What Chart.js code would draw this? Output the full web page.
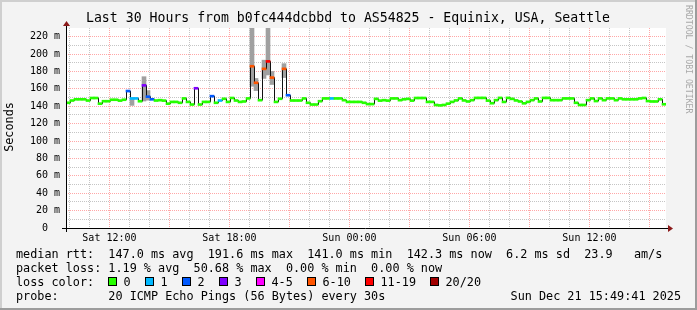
<!DOCTYPE html>
<html><head><meta charset="utf-8">
<script src="https://cdn.jsdelivr.net/npm/chart.js@4/dist/chart.umd.min.js"></script>
<style>html,body{margin:0;padding:0;background:#f3f3f3;overflow:hidden}canvas{display:block}</style>
</head><body>
<canvas id="c" width="697" height="310"></canvas>
<script>
// ---------- data ----------
const titleText = 'Last 30 Hours from b0fc444dcbbd to AS54825 - Equinix, USA, Seattle';
const startHour = 9.828;   // Sat 09:49:41, hours since Sat 00:00
const spanHours = 30;
const stepHours = 0.2;     // one consolidated sample every 12 minutes

// median round-trip time per sample, ms
const medianRtt = [
  144, 146.6, 148, 148, 148, 146.6, 149.5, 149.5, 143, 145.8,
  145.8, 147.5, 147.5, 146.5, 147.5, 157.5, 149, 149, 145.8, 164,
  151, 148, 146.6, 147, 146.5, 143, 145, 145, 144, 149,
  145, 142, 160.7, 142, 145, 145, 151.6, 144, 146.6, 148.6,
  145, 149.5, 146.6, 145, 145.5, 149, 186, 167, 147, 183,
  191.6, 173, 145, 148.6, 183, 152.7, 146.6, 146.6, 146.6, 149,
  144, 142, 142, 145.8, 149, 149, 149, 149, 149, 147,
  145, 145, 145, 145, 144, 142.5, 142.5, 148.5, 146.5, 147,
  146.5, 149, 149, 147, 148, 148.5, 146.5, 149.5, 149.5, 149.5,
  145, 145, 141.5, 141, 141.5, 143, 145, 146.7, 149, 146.7,
  145.5, 147, 149.6, 149.6, 149.6, 146.5, 143.5, 147, 149.6, 145,
  149.6, 148.5, 146.7, 145.5, 143.4, 145, 147, 149, 145.5, 149.6,
  149.6, 147, 147, 147, 149, 149, 149, 144, 141.5, 141.5,
  147, 149, 146, 149, 147, 149, 149, 147, 149, 148,
  148, 148, 148, 149, 149.5, 146, 145.5, 145.5, 148, 142.3
];
// lost pings (of 20) per sample
const lossCount = [
  0,0,0,0,0,0,0,0,0,0,
  0,0,0,0,0,2,1,1,0,3,
  2,2,0,0,0,0,0,0,0,0,
  0,0,3,0,0,0,2,0,1,0,
  0,0,0,0,0,0,8,7,0,8,
  11,7,0,0,8,2,0,0,0,0,
  0,0,0,0,0,0,1,0,0,0,
  0,0,0,0,0,0,0,0,0,0,
  0,0,0,0,0,0,0,0,0,0,
  0,0,0,0,0,0,0,0,0,0,
  0,0,0,0,0,0,0,0,0,0,
  0,0,0,0,0,0,0,0,0,0,
  0,0,0,0,0,0,0,0,0,0,
  0,0,0,0,0,0,0,0,0,0,
  0,0,0,0,0,0,0,0,0,0
];
// visible "smoke" (spread of individual pings) at sample indexes
const smokeAt   = [16, 19, 20, 46, 47, 49, 50, 51, 54];
const smokeLow  = [141, 146, 147, 163, 158, 172, 176, 165, 173];
const smokeHigh = [149, 174, 158, 235, 172, 193, 235, 180, 189];

const xTickHours  = [12, 18, 24, 30, 36];
const xTickLabels = ['Sat 12:00', 'Sat 18:00', 'Sun 00:00', 'Sun 06:00', 'Sun 12:00'];
const yMin = 0, yMax = 230, yStep = 10;

const lossLabels = ['0', '1', '2', '3', '4-5', '6-10', '11-19', '20/20'];
const lossUpper  = [0, 1, 2, 3, 5, 10, 19, 20];
const lossColors = ['#26ff00', '#00b8ff', '#0059ff', '#7e00ff', '#ff00ff', '#ff5500', '#ff0000', '#a10000'];

const rttLine   = 'median rtt:  147.0 ms avg  191.6 ms max  141.0 ms min  142.3 ms now  6.2 ms sd  23.9   am/s';
const lossLine  = 'packet loss: 1.19 % avg  50.68 % max  0.00 % min  0.00 % now';
const probeLine = 'probe:       20 ICMP Echo Pings (56 Bytes) every 30s';
const stampText = 'Sun Dec 21 15:49:41 2025';

// ---------- helpers ----------
const times = medianRtt.map((_, i) => startHour + (i + 0.5) * stepHours);
function lossColor(n) {
  for (let i = 0; i < lossUpper.length; i++) if (n <= lossUpper[i]) return lossColors[i];
  return lossColors[lossColors.length - 1];
}
const hourTicks = [];
for (let h = Math.ceil(startHour); h <= startHour + spanHours; h++) hourTicks.push(h);
const yTicks = [];
for (let v = yMin; v <= yMax; v += yStep) yTicks.push(v);

const MONO = '"DejaVu Sans Mono", monospace';
const bandHalf = 1.15;
const majorGrid = 'rgba(255,60,60,0.45)';
const minorGrid = 'rgba(140,140,140,0.5)';

const decor = {
  id: 'decor',
  beforeDraw(chart) {
    const c = chart.ctx, a = chart.chartArea;
    c.save();
    c.fillStyle = '#f3f3f3'; c.fillRect(0, 0, 697, 310);
    c.fillStyle = '#ffffff'; c.fillRect(a.left, a.top, a.right - a.left, a.bottom - a.top);
    c.restore();
  },
  // draw the thin median line crisp on the pixel grid
  beforeDatasetDraw(chart, args) {
    if (args.meta.type === 'line') { chart.ctx.save(); chart.ctx.translate(0.5, 0); }
  },
  afterDatasetDraw(chart, args) {
    if (args.meta.type === 'line') chart.ctx.restore();
  },
  afterDraw(chart) {
    const c = chart.ctx, a = chart.chartArea;
    c.save();
    // frame
    c.fillStyle = '#cfcfcf'; c.fillRect(0, 0, 697, 2); c.fillRect(0, 0, 2, 310);
    c.fillStyle = '#9c9c9c'; c.fillRect(0, 308, 697, 2); c.fillRect(695, 0, 2, 310);
    // axes
    c.strokeStyle = '#000'; c.lineWidth = 1;
    c.beginPath();
    c.moveTo(a.left - 4, a.bottom + 0.5); c.lineTo(a.right + 3, a.bottom + 0.5);
    c.moveTo(a.left + 0.5, a.bottom + 4); c.lineTo(a.left + 0.5, a.top - 2);
    c.stroke();
    c.fillStyle = '#8b1a1a';
    c.beginPath();
    c.moveTo(a.right + 2, a.bottom - 3); c.lineTo(a.right + 7, a.bottom + 0.5); c.lineTo(a.right + 2, a.bottom + 4); c.closePath(); c.fill();
    c.beginPath();
    c.moveTo(a.left - 3, a.top - 2); c.lineTo(a.left + 0.5, a.top - 7); c.lineTo(a.left + 4, a.top - 2); c.closePath(); c.fill();
    // title
    c.fillStyle = '#000';
    c.font = '13.2px ' + MONO;
    c.textAlign = 'center'; c.textBaseline = 'middle';
    c.fillText(titleText, 348, 19);
    // y title
    c.font = '11.8px ' + MONO;
    c.save(); c.translate(10, 127); c.rotate(-Math.PI / 2);
    c.fillText('Seconds', 0, 0); c.restore();
    // side watermark
    c.save(); c.translate(688, 5); c.rotate(Math.PI / 2);
    c.font = '8.2px ' + MONO; c.fillStyle = '#a8a8a8'; c.textAlign = 'left';
    c.fillText('RRDTOOL / TOBI OETIKER', 0, 0); c.restore();
    // legend
    c.textAlign = 'left'; c.fillStyle = '#000'; c.font = '11.8px ' + MONO;
    c.fillText(rttLine, 16, 254.5);
    c.fillText(lossLine, 16, 268.5);
    c.fillText('loss color:', 16, 282.5);
    const boxX = [108.5, 145.5, 182.5, 219.5, 256.5, 307.5, 365.5, 430.5];
    lossLabels.forEach((t, i) => {
      c.fillStyle = lossColors[i]; c.fillRect(boxX[i], 277.5, 8, 8);
      c.strokeStyle = '#000'; c.strokeRect(boxX[i], 277.5, 8, 8);
      c.fillStyle = '#000'; c.fillText(t, boxX[i] + 15, 282.5);
    });
    c.fillText(probeLine, 16, 296.5);
    c.textAlign = 'right';
    c.fillText(stampText, 681, 296.5);
    c.restore();
  }
};

new Chart(document.getElementById('c').getContext('2d'), {
  type: 'bar',
  data: {
    datasets: [
      {
        type: 'bar', label: 'smoke',
        data: smokeAt.map((k, j) => ({ x: times[k], y: [smokeLow[j], smokeHigh[j]] })),
        backgroundColor: '#a0a0a0', borderWidth: 0, grouped: false,
        barPercentage: 1, categoryPercentage: 1, order: 3, clip: 0
      },
      {
        type: 'line', label: 'median',
        data: medianRtt.map((v, i) => ({ x: times[i], y: v })),
        stepped: 'middle', borderColor: '#111111', borderWidth: 1,
        pointRadius: 0, fill: false, order: 2, clip: 0
      },
      {
        type: 'bar', label: 'loss',
        data: medianRtt.map((v, i) => ({ x: times[i], y: [v - bandHalf, v + bandHalf] })),
        backgroundColor: lossCount.map(lossColor), borderWidth: 0, grouped: false,
        barPercentage: 1, categoryPercentage: 1, order: 1, clip: 0
      }
    ]
  },
  options: {
    responsive: false, animation: false, devicePixelRatio: 1, events: [],
    layout: { padding: { left: 0, right: 31, top: 28, bottom: 62 } },
    plugins: { legend: { display: false }, tooltip: { enabled: false }, title: { display: false } },
    scales: {
      x: {
        type: 'linear', min: startHour, max: startHour + spanHours, offset: false,
        afterBuildTicks: s => { s.ticks = hourTicks.map(v => ({ value: v })); },
        afterFit: s => { s.height = 20; },
        grid: { offset: false, drawTicks: false, lineWidth: 1,
          color: c => (c.tick && c.tick.value % 3 === 0) ? majorGrid : minorGrid },
        border: { display: false, dash: [1, 1] },
        ticks: {
          autoSkip: false, maxRotation: 0, padding: 4, color: '#000',
          font: { family: MONO, size: 10 },
          callback: v => { const i = xTickHours.indexOf(v); return i >= 0 ? xTickLabels[i] : ''; }
        }
      },
      y: {
        min: yMin, max: yMax,
        afterBuildTicks: s => { s.ticks = yTicks.map(v => ({ value: v })); },
        afterFit: s => { s.width = 66; },
        grid: { drawTicks: false, lineWidth: 1,
          color: c => { const v = c.tick ? c.tick.value : 0; if (v === yMax) return 'rgba(0,0,0,0)'; return v % 20 === 0 ? majorGrid : minorGrid; } },
        border: { display: false, dash: [1, 1] },
        ticks: {
          autoSkip: false, padding: 6, color: '#000',
          font: { family: MONO, size: 10 },
          callback: v => (v % 20 !== 0 || v === yMax) ? '' : (v === 0 ? '0  ' : v + ' m')
        }
      }
    }
  },
  plugins: [decor]
});
</script>
</body></html>
